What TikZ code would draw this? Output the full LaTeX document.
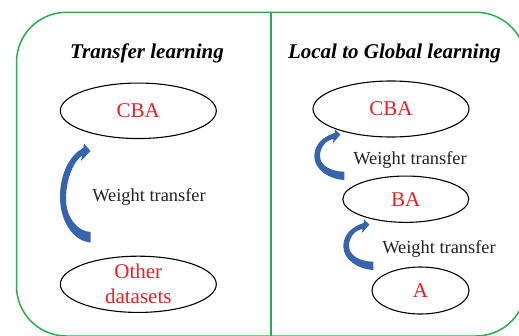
\documentclass[tikz,border=0pt]{standalone}
\usepackage{fontspec}
\setmainfont{Liberation Serif}
\usetikzlibrary{shapes.geometric}
\definecolor{framegreen}{RGB}{40,175,75}
\definecolor{arrowblue}{RGB}{55,100,172}
\definecolor{labelred}{RGB}{236,28,36}
\definecolor{textgray}{RGB}{35,35,35}
\tikzset{
  blob/.style={ellipse, draw=black, line width=1.1pt, text=labelred, inner sep=0pt,
    font=\fontsize{21}{25}\selectfont},
  titletext/.style={font=\fontsize{21}{25}\selectfont\bfseries\itshape, text=black, anchor=base, inner sep=0pt},
  wlabel/.style={font=\fontsize{18.4}{22}\selectfont, text=textgray, anchor=base, inner sep=0pt},
  bentarrow/.style={fill=arrowblue, draw=none},
  framebox/.style={draw=framegreen, line width=1.5pt}
}
\begin{document}
\begin{tikzpicture}[x=1pt,y=-1pt]
\useasboundingbox (0,0) rectangle (519,335);
\clip (0,0) rectangle (519,335);
% frame
\draw[framebox, rounded corners=50pt] (16.5,12.3) rectangle (526,336);
\coordinate (divtop) at (271,12.3);
\coordinate (divbot) at (271,336);
\draw[framebox] (divtop) -- (divbot);
% titles
\node[titletext] (t1) at (147,58) {Transfer learning};
\node[titletext] (t2) at (394.5,58) {Local to Global learning};
% ellipses
\node[blob, minimum width=156pt, minimum height=55.5pt] (lcba) at (138.3,110.8) {CBA};
\node[blob, minimum width=156pt, minimum height=56pt, align=center] (oth) at (138.3,284.3) {Other\\datasets};
\node[blob, minimum width=156pt, minimum height=56pt] (rcba) at (391,109) {CBA};
\node[blob, minimum width=126pt, minimum height=46.3pt] (ba) at (405.8,199.2) {BA};
\node[blob, minimum width=97pt, minimum height=47pt] (a) at (420.5,290.5) {A};
% labels
\node[wlabel] (w1) at (149,201.5) {Weight transfer};
\node[wlabel] (w2) at (410,164) {Weight transfer};
\node[wlabel] (w3) at (439,253) {Weight transfer};
% left curved arrow
\fill[bentarrow] (90.7,242.5) .. controls (74,241.5) and (60,222) .. (60,197)
  .. controls (60,172) and (71,154) .. (83.3,148)
  -- (84,143.5) -- (90.5,151) -- (81,161) -- (82,155.5)
  .. controls (73,162) and (66,180) .. (66,199)
  .. controls (66,218) and (78,231.5) .. (90.7,232) -- cycle;
% right curved arrows
\fill[bentarrow] (344.3,180) .. controls (330,179.5) and (314,170) .. (314.3,156)
  .. controls (314.5,145) and (322,137) .. (334.5,133)
  -- (335,129.5) -- (340.5,134.5) -- (333,143) -- (333.5,139)
  .. controls (325,140.5) and (320,148) .. (320,156)
  .. controls (320,165) and (330,171.5) .. (344.3,171.7) -- cycle;
\begin{scope}[shift={(29,90)}]
\fill[bentarrow] (344.3,180) .. controls (330,179.5) and (314,170) .. (314.3,156)
  .. controls (314.5,145) and (322,137) .. (334.5,133)
  -- (335,129.5) -- (340.5,134.5) -- (333,143) -- (333.5,139)
  .. controls (325,140.5) and (320,148) .. (320,156)
  .. controls (320,165) and (330,171.5) .. (344.3,171.7) -- cycle;
\end{scope}
\end{tikzpicture}
\end{document}
